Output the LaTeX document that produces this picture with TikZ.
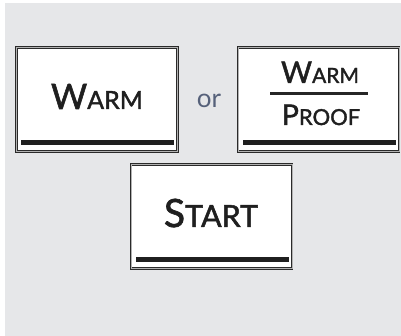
\documentclass[tikz,border=0pt]{standalone}
\usepackage{fontspec}
\setmainfont{Lato}[BoldFont=Lato, BoldFeatures={FakeBold=1.6}]
\usepackage{xcolor}
\usetikzlibrary{positioning, calc}
\definecolor{panelgray}{HTML}{E6E7E9}
\definecolor{framegray}{HTML}{2A2A2A}
\definecolor{orblue}{HTML}{56617A}
\tikzstyle{button} = [rectangle, minimum width=161pt, minimum height=104pt, fill=white, draw=framegray, line width=1pt, double=gray!60, double distance=0.9pt]
\tikzstyle{keytext} = [inner sep=0pt, anchor=base, text=black!88, font=\bfseries]
\tikzstyle{bar} = [fill=black!88]
\newcommand{\capword}[4]{{\fontsize{#1}{#1}\selectfont #3}{\fontsize{#2}{#2}\selectfont #4}}

\begin{document}
\begin{tikzpicture}[x=1pt, y=-1pt]
    \useasboundingbox (0,0) rectangle (401,336);
    \fill[panelgray] (5,3) rectangle (401,336);

    \node (warm) [button] at (97,99.5) {};
    \node (proof) [button] at (318.5,99.5) {};
    \node (start) [button] at (211.5,216.5) {};

    \node (warmtxt) [keytext] at (97,109) {\capword{35}{25}{W}{ARM}};
    \node (ortxt) [keytext, text=orblue, font=\mdseries] at (209,108) {\fontsize{26}{26}\selectfont or};
    \node (proofup) [keytext] at (320,83) {\capword{30}{21}{W}{ARM}};
    \node (proofdn) [keytext] at (321,125) {\capword{28.5}{22}{P}{ROOF}};
    \node (starttxt) [keytext] at (211,227) {\capword{39}{30.5}{S}{TART}};

    \draw[line width=2.6pt, black!85] (270,93.5) -- (368,93.5);
    \foreach \k in {warm, proof, start}
        \fill[bar] ($(\k.south west)+(5pt,7pt)$) rectangle ($(\k.south east)+(-4pt,12pt)$);
\end{tikzpicture}
\end{document}
